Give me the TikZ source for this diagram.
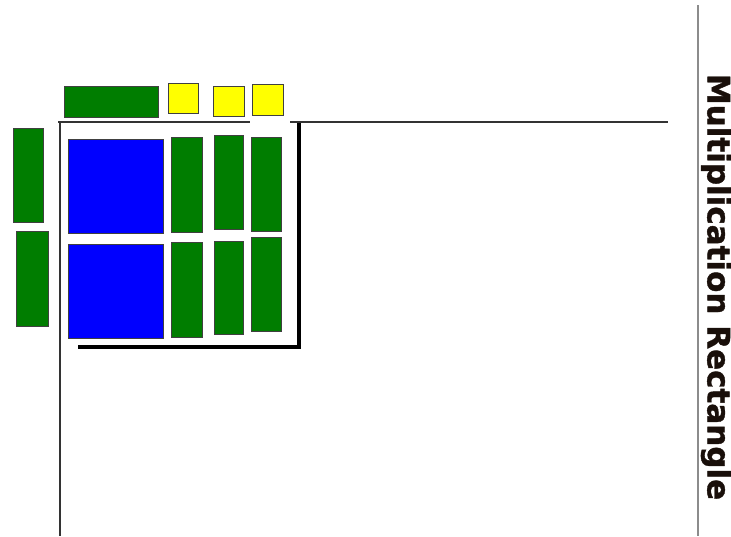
\documentclass[tikz,border=0pt]{standalone}
\usepackage{fontspec}
\newfontfamily\titlefont[BoldFeatures={FakeBold=1.2}]{DejaVu Sans}
\begin{document}
\begin{tikzpicture}[x=1pt,y=-1pt,
  tile/.style={draw=black!75,line width=0.8pt},
  gtile/.style={tile,fill={rgb,255:red,0;green,125;blue,0}},
  btile/.style={tile,fill={rgb,255:red,0;green,0;blue,255}},
  ytile/.style={tile,fill={rgb,255:red,255;green,255;blue,0}},
  axis/.style={draw=black!80,line width=1.8pt},
  frame/.style={draw=black,line width=4pt},
  sep/.style={draw=black!45,line width=1.5pt}]
\useasboundingbox (0,0) rectangle (731,536);
% axes
\draw[axis] (58,122) -- (250,122);
\draw[axis] (290,122) -- (668,122);
\draw[axis] (60,121) -- (60,536);
\draw[sep] (698,5) -- (698,536);
% thick frame
\draw[frame] (78,347) -- (299,347) -- (299,123);
% top tiles
\draw[gtile] (64,86) rectangle (158,117);
\draw[ytile] (168,83) rectangle (198,113);
\draw[ytile] (213,86) rectangle (244,116);
\draw[ytile] (252,84) rectangle (283,115);
% left tiles
\draw[gtile] (13,128) rectangle (43,222);
\draw[gtile] (16,231) rectangle (48,326);
% inside
\draw[btile] (68,139) rectangle (163,233);
\draw[btile] (68,244) rectangle (163,338);
\draw[gtile] (171,137) rectangle (202,232);
\draw[gtile] (171,242) rectangle (202,337);
\draw[gtile] (214,135) rectangle (243,229);
\draw[gtile] (214,241) rectangle (243,334);
\draw[gtile] (251,137) rectangle (281,231);
\draw[gtile] (251,237) rectangle (281,331);
% title
\node[rotate=-90,inner sep=0pt,text={rgb,255:red,25;green,15;blue,10}] (title) at (716,287)
  {\titlefont\bfseries\fontsize{31}{31}\selectfont Multiplication Rectangle};
\end{tikzpicture}
\end{document}
